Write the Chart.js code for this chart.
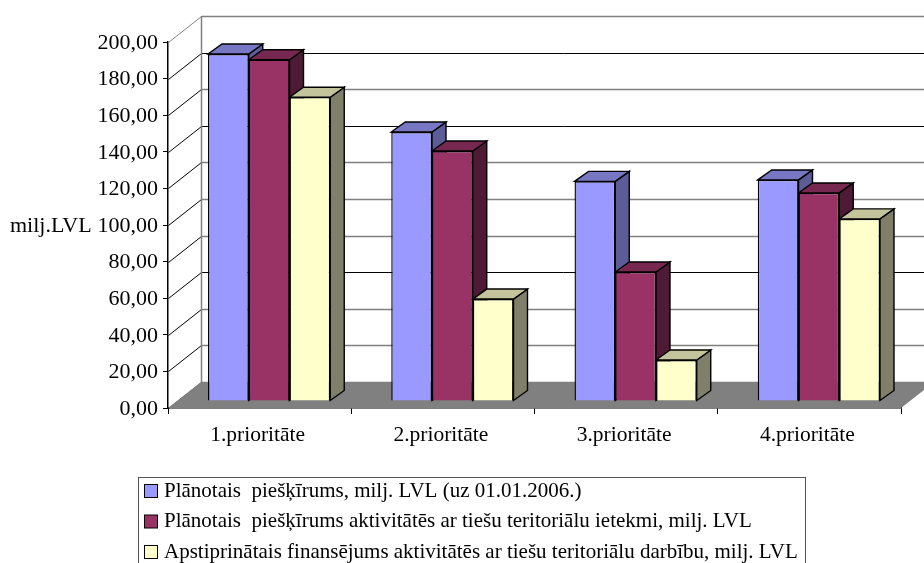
<!DOCTYPE html>
<html>
<head>
<meta charset="utf-8">
<style>
  html, body { margin: 0; padding: 0; background: #fff; overflow: hidden; }
  canvas { display: block; }
</style>
<script src="https://cdn.jsdelivr.net/npm/chart.js@4"></script>
</head>
<body>
<canvas id="chart" width="924" height="563"></canvas>
<script>
const categories = ["1.prioritāte", "2.prioritāte", "3.prioritāte", "4.prioritāte"];
const planned = [189.6, 147, 120, 120.8];
const plannedTerritorial = [186.5, 136.6, 70.5, 113.7];
const approved = [166, 55.7, 22.4, 99.5];
const seriesNames = [
  "Plānotais  piešķīrums, milj. LVL (uz 01.01.2006.)",
  "Plānotais  piešķīrums aktivitātēs ar tiešu teritoriālu ietekmi, milj. LVL",
  "Apstiprinātais finansējums aktivitātēs ar tiešu teritoriālu darbību, milj. LVL"
];
const axisTitle = "milj.LVL";

const FONT = "'Liberation Serif', 'Times New Roman', serif";
// front face, top and side colours of each series
const faces = [
  { front: "#9999ff", top: "#7777c4", side: "#5c5c99" },
  { front: "#993366", top: "#772850", side: "#4f1a35" },
  { front: "#ffffcc", top: "#c4c49c", side: "#80806a" }
];
// the reference shows only these wall lines as full black, the others came out grey
const blackGridLines = [180, 140, 60];

const WALL = { x: 33, y: -26 };    // depth of the walls
const SHIFT = { x: 9.5, y: -7 };   // bars stand a bit behind the front edge
const DEPTH = { x: 14, y: -10 };   // depth of a bar
const EDGE = 1.4;

function poly(ctx, pts, fill, stroke, width) {
  ctx.beginPath();
  pts.forEach((p, i) => (i ? ctx.lineTo(p[0], p[1]) : ctx.moveTo(p[0], p[1])));
  ctx.closePath();
  if (fill) { ctx.fillStyle = fill; ctx.fill(); }
  if (stroke) { ctx.strokeStyle = stroke; ctx.lineWidth = width || 1; ctx.stroke(); }
}

const box3d = {
  id: "box3d",
  beforeDatasetsDraw(chart) {
    const ctx = chart.ctx;
    const y = chart.scales.y;
    const { left, right, bottom } = chart.chartArea;

    // walls and grid
    y.ticks.forEach((t) => {
      const py = Math.round(y.getPixelForValue(t.value)) + 0.5;
      const black = blackGridLines.includes(t.value);
      // slanted part on the side wall
      ctx.lineWidth = 1;
      ctx.strokeStyle = t.value === 200 ? "#808080" : "#000";
      ctx.beginPath();
      ctx.moveTo(left + 0.5, py);
      ctx.lineTo(left + WALL.x + 0.5, py + WALL.y);
      ctx.stroke();
      // back wall part
      ctx.lineWidth = black ? 1 : 1.5;
      ctx.strokeStyle = black ? "#000" : "#808080";
      ctx.beginPath();
      ctx.moveTo(left + WALL.x + 0.5, py + WALL.y);
      ctx.lineTo(right + WALL.x, py + WALL.y);
      ctx.stroke();
    });
    ctx.lineWidth = 1.5;
    ctx.strokeStyle = "#808080";
    ctx.beginPath();
    ctx.moveTo(left + WALL.x + 0.5, y.getPixelForValue(200) + WALL.y);
    ctx.lineTo(left + WALL.x + 0.5, bottom + WALL.y);
    ctx.stroke();

    // floor
    poly(ctx, [[left, bottom], [left + WALL.x, bottom + WALL.y], [right + WALL.x, bottom + WALL.y], [right, bottom]], "#808080");

    // axis title
    ctx.fillStyle = "#000";
    ctx.font = "22px " + FONT;
    ctx.textAlign = "left";
    ctx.textBaseline = "middle";
    ctx.fillText(axisTitle, 10, 226);

    ctx.save();
    ctx.translate(SHIFT.x, SHIFT.y);

    // sides and tops first, the library paints the fronts over them
    categories.forEach((c, i) => {
      chart.data.datasets.forEach((ds, d) => {
        const bar = chart.getDatasetMeta(d).data[i];
        const x0 = bar.x - bar.width / 2;
        const x1 = bar.x + bar.width / 2;
        poly(ctx, [[x1, bar.y], [x1 + DEPTH.x, bar.y + DEPTH.y], [x1 + DEPTH.x, bar.base + DEPTH.y], [x1, bar.base]], faces[d].side, "#000", EDGE);
        poly(ctx, [[x0, bar.y], [x0 + DEPTH.x, bar.y + DEPTH.y], [x1 + DEPTH.x, bar.y + DEPTH.y], [x1, bar.y]], faces[d].top, "#000", EDGE);
      });
    });
  },
  afterDatasetsDraw(chart) {
    chart.ctx.restore();
  },
  afterDraw(chart) {
    // framed legend, runs off the bottom of the picture
    const ctx = chart.ctx;
    ctx.strokeStyle = "#555";
    ctx.lineWidth = 1;
    ctx.strokeRect(138.5, 477.5, 667, 100);
    ctx.font = "21px " + FONT;
    ctx.textAlign = "left";
    ctx.textBaseline = "middle";
    seriesNames.forEach((name, i) => {
      const rowY = 491 + i * 30.5;
      ctx.fillStyle = faces[i].front;
      ctx.fillRect(144.5, rowY - 6.5, 13, 13);
      ctx.strokeStyle = "#000";
      ctx.strokeRect(144.5, rowY - 6.5, 13, 13);
      ctx.fillStyle = "#000";
      ctx.fillText(name, 164, rowY);
    });
  }
};

new Chart(document.getElementById("chart"), {
  type: "bar",
  data: {
    labels: categories,
    datasets: [planned, plannedTerritorial, approved].map((values, i) => ({
      label: seriesNames[i],
      data: values,
      backgroundColor: faces[i].front,
      borderColor: "#000",
      borderWidth: EDGE,
      clip: false
    }))
  },
  options: {
    responsive: false,
    animation: false,
    barPercentage: 1,
    categoryPercentage: 0.667,
    layout: { padding: { top: 42, right: 23, left: 0, bottom: 0 } },
    plugins: {
      tooltip: { enabled: false },
      legend: { display: false }
    },
    scales: {
      x: {
        afterFit(scale) { scale.height = 155; },
        border: { color: "#000", width: 1.5 },
        grid: { offset: true, drawOnChartArea: false, color: "#000", tickLength: 6 },
        ticks: { color: "#000", padding: 8, labelOffset: -2, maxRotation: 0, font: { family: FONT, size: 21.5 } }
      },
      y: {
        min: 0,
        max: 200,
        afterFit(scale) { scale.width = 168; },
        border: { color: "#000", width: 1.5 },
        grid: { drawOnChartArea: false, color: "#000", tickLength: 5 },
        ticks: {
          stepSize: 20,
          color: "#000",
          padding: 5,
          labelOffset: 1,
          font: { family: FONT, size: 22 },
          callback: (v) => v.toFixed(2).replace(".", ",")
        }
      }
    }
  },
  plugins: [box3d]
});
</script>
</body>
</html>
